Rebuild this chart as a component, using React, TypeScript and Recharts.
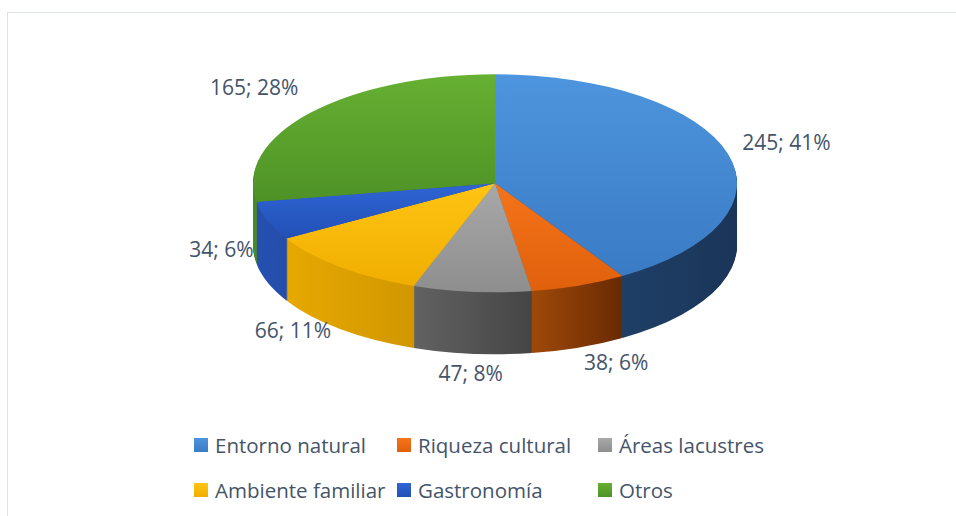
import React from 'react';
import { PieChart, Pie, Cell } from 'recharts';

// Reasons for visiting (count per category)
const categories = ['Entorno natural', 'Riqueza cultural', 'Áreas lacustres', 'Ambiente familiar', 'Gastronomía', 'Otros'];
const values = [245, 38, 47, 66, 34, 165];

// top face gradients [light, dark]
const topColors = [
  ['#4d95de', '#3a7bc4'],
  ['#f5741a', '#e0600c'],
  ['#a8a8a8', '#8e8e8e'],
  ['#ffc414', '#f0ae00'],
  ['#2f65d4', '#2250b6'],
  ['#66b032', '#4e9226'],
];
// side (depth) gradients [left, right]
const sideColors = [
  ['#254a78', '#1a3558'],
  ['#b5560c', '#692a02'],
  ['#626262', '#454545'],
  ['#e6a800', '#c48c00'],
  ['#2650b0', '#1b3d8c'],
  ['#4a8a22', '#3a6e1a'],
];

const data = categories.map((name, i) => ({ name, value: values[i] }));

const CX = 490;
const CY = 181;
const RX = 242;
const RY = 109;
const DEPTH = 62;
const S = RY / RX;
const FONT = '"Open Sans", sans-serif';
const TEXT = '#44546a';

// one pie per pixel of depth, bottom first
const layerOffsets = Array.from({ length: DEPTH }, (_, i) => DEPTH - i);

const renderLabel = (props: any) => {
  const { cx, cy, midAngle, value, percent } = props;
  const rad = (-midAngle * Math.PI) / 180;
  const cos = Math.cos(rad);
  const sin = Math.sin(rad);
  const x = cx + (RX + 15) * cos;
  // front labels sit below the side wall, back labels a bit higher
  const y = cy * S + (sin > 0 ? (RY + 20 + DEPTH) * sin : (RY + 40) * sin);
  const anchor = cos > 0.3 ? 'start' : cos < -0.3 ? 'end' : 'middle';
  return (
    <g transform={`translate(${x}, ${y / S}) scale(1, ${1 / S})`}>
      <text x={0} y={0} textAnchor={anchor} dominantBaseline="central" fill={TEXT} fontSize={21} fontFamily={FONT}>
        {`${value}; ${Math.round(percent * 100)}%`}
      </text>
    </g>
  );
};

const App: React.FC = () => {
  return (
    <div style={{ position: 'absolute', left: 0, top: 0, width: 956, height: 516, overflow: 'hidden', background: '#fff' }}>
      <div style={{ position: 'absolute', left: 7, top: 12, width: 1000, height: 600, border: '1px solid #dde2e8' }} />

      <div style={{ position: 'absolute', left: 0, top: 0, width: 956, height: 900, transform: `scaleY(${S})`, transformOrigin: '0 0' }}>
        <PieChart width={956} height={900}>
          <defs>
            {topColors.map((c, i) => (
              <linearGradient key={`t${i}`} id={`top${i}`} x1="0" y1="0" x2="0" y2="1">
                <stop offset="0%" stopColor={c[0]} />
                <stop offset="100%" stopColor={c[1]} />
              </linearGradient>
            ))}
            {sideColors.map((c, i) => (
              <linearGradient key={`s${i}`} id={`side${i}`} x1="0" y1="0" x2="1" y2="0">
                <stop offset="0%" stopColor={c[0]} />
                <stop offset="100%" stopColor={c[1]} />
              </linearGradient>
            ))}
          </defs>
          {layerOffsets.map((d) => (
            <Pie
              key={`layer-${d}`}
              data={data}
              dataKey="value"
              nameKey="name"
              cx={CX}
              cy={(CY + d) / S}
              outerRadius={RX}
              startAngle={90}
              endAngle={-270}
              stroke="none"
              label={false}
              labelLine={false}
              isAnimationActive={false}
            >
              {data.map((entry, i) => (
                <Cell key={`s-${entry.name}`} fill={`url(#side${i})`} />
              ))}
            </Pie>
          ))}
          <Pie
            data={data}
            dataKey="value"
            nameKey="name"
            cx={CX}
            cy={CY / S}
            outerRadius={RX}
            startAngle={90}
            endAngle={-270}
            stroke="none"
            label={renderLabel}
            labelLine={false}
            isAnimationActive={false}
          >
            {data.map((entry, i) => (
              <Cell key={`t-${entry.name}`} fill={`url(#top${i})`} />
            ))}
          </Pie>
        </PieChart>
      </div>

      {/* legend */}
      <div
        style={{
          position: 'absolute',
          left: 194,
          top: 422,
          display: 'grid',
          gridTemplateColumns: '203px 201px 200px',
          gridAutoRows: '45px',
          fontFamily: FONT,
          fontSize: 20.5,
          color: TEXT,
        }}
      >
        {categories.map((c, i) => (
          <div key={c} style={{ display: 'flex', alignItems: 'center', whiteSpace: 'nowrap' }}>
            <span
              style={{
                width: 14,
                height: 14,
                marginRight: 7,
                flex: 'none',
                background: `linear-gradient(${topColors[i][0]}, ${topColors[i][1]})`,
              }}
            />
            {c}
          </div>
        ))}
      </div>
    </div>
  );
};

export default App;
